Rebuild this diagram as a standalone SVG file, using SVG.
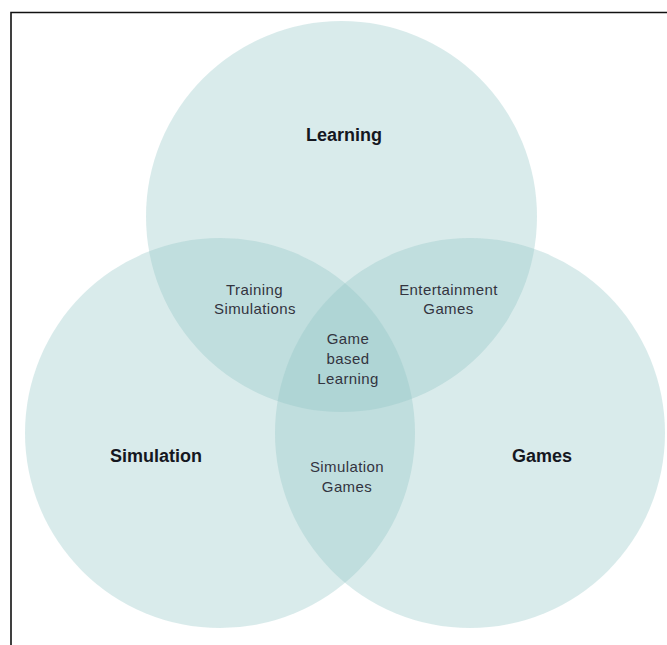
<svg xmlns="http://www.w3.org/2000/svg" width="667" height="645" viewBox="0 0 667 645">
  <style>
    .set { fill: #8fc4c4; fill-opacity: 0.34; }
    .main { font-family: "Liberation Sans", Arial, sans-serif; font-weight: bold; font-size: 18px; fill: #15171f; text-anchor: middle; }
    .sub { font-family: "Liberation Sans", Arial, sans-serif; font-size: 15px; letter-spacing: 0.4px; fill: #33343f; text-anchor: middle; }
    .frame { stroke: #111; stroke-width: 1.6; fill: none; }
  </style>
  <rect width="667" height="645" fill="#ffffff"/>
  <path class="frame" d="M11,645 V12.5 H667"/>
  <g id="learning">
    <circle class="set" cx="341.5" cy="216.5" r="195.5"/>
    <text class="main" x="344" y="141">Learning</text>
  </g>
  <g id="simulation">
    <circle class="set" cx="220" cy="433" r="195"/>
    <text class="main" x="156" y="462">Simulation</text>
  </g>
  <g id="games">
    <circle class="set" cx="470" cy="433" r="195"/>
    <text class="main" x="542" y="462">Games</text>
  </g>
  <g id="training-simulations">
    <text class="sub" x="254.5" y="295">Training</text>
    <text class="sub" x="255" y="314">Simulations</text>
  </g>
  <g id="entertainment-games">
    <text class="sub" x="448.5" y="295">Entertainment</text>
    <text class="sub" x="448.5" y="314">Games</text>
  </g>
  <g id="game-based-learning">
    <text class="sub" x="348" y="344">Game</text>
    <text class="sub" x="348" y="364">based</text>
    <text class="sub" x="348" y="384">Learning</text>
  </g>
  <g id="simulation-games">
    <text class="sub" x="347" y="472">Simulation</text>
    <text class="sub" x="347" y="492">Games</text>
  </g>
</svg>
